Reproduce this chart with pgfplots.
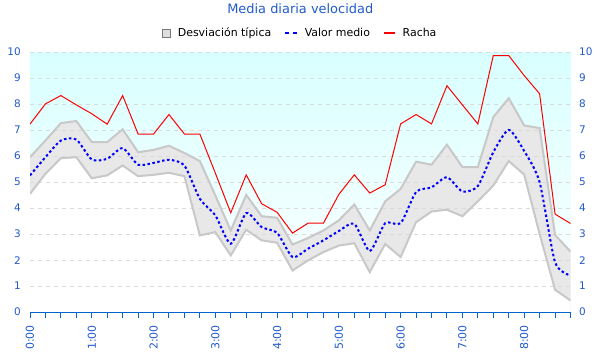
\documentclass[border=0pt]{standalone}
\usepackage{fontspec}
\setmainfont{DejaVu Sans}
\usepackage{pgfplots}
\pgfplotsset{compat=1.18}
\usepackage{pgfplotstable}
\definecolor{txtblue}{RGB}{34,90,204}
\definecolor{axblue}{RGB}{0,102,204}
\definecolor{cyantop}{RGB}{216,255,255}
\definecolor{bandfill}{RGB}{232,232,232}
\definecolor{bandedge}{RGB}{200,200,200}
\definecolor{gridgrey}{RGB}{218,218,218}
\definecolor{legfill}{RGB}{222,222,222}
\definecolor{legdraw}{RGB}{120,120,120}
\newcommand\tickfont{\fontsize{10.5}{12}\selectfont}
\newcommand\xtickfont{\fontsize{11}{13}\selectfont}

\pgfplotstableread{
i up lo mean racha
0 5.96 4.55 5.26 7.23
1 6.60 5.32 5.96 8.01
2 7.27 5.92 6.60 8.33
3 7.35 5.96 6.64 7.97
4 6.54 5.15 5.87 7.63
5 6.54 5.26 5.90 7.23
6 7.03 5.64 6.31 8.33
7 6.15 5.23 5.67 6.85
8 6.24 5.28 5.74 6.85
9 6.40 5.36 5.86 7.60
10 6.12 5.23 5.64 6.85
11 5.81 2.95 4.36 6.85
12 4.49 3.08 3.72 5.35
13 3.14 2.18 2.63 3.82
14 4.51 3.17 3.81 5.28
15 3.69 2.76 3.27 4.17
16 3.63 2.67 3.05 3.84
17 2.60 1.60 2.12 3.04
18 2.85 1.99 2.44 3.42
19 3.14 2.31 2.76 3.42
20 3.53 2.56 3.12 4.53
21 4.14 2.65 3.40 5.28
22 3.14 1.54 2.35 4.58
23 4.26 2.62 3.42 4.90
24 4.74 2.12 3.42 7.24
25 5.79 3.46 4.62 7.60
26 5.67 3.87 4.80 7.24
27 6.44 3.94 5.19 8.71
28 5.58 3.69 4.64 7.97
29 5.58 4.26 4.85 7.24
30 7.50 4.87 6.15 9.87
31 8.23 5.81 7.01 9.87
32 7.18 5.29 6.20 9.10
33 7.08 3.01 5.00 8.40
34 2.97 0.86 1.92 3.77
35 2.33 0.45 1.41 3.41
}\data

\begin{document}
\begin{tikzpicture}
\path (-30bp,-50bp) rectangle (570bp,310bp);
\begin{axis}[
  set layers,
  at={(0,0)}, anchor=south west,
  scale only axis, width=540.5bp, height=260bp,
  xmin=0, xmax=35, ymin=0, ymax=10,
  axis background/.style={top color=cyantop, bottom color=white},
  axis x line*=bottom, axis y line*=left,
  y axis line style={draw=none},
  x axis line style={draw=axblue, line width=1.2bp, -},
  xtick={0,4,...,32},
  xticklabels={0:00,1:00,2:00,3:00,4:00,5:00,6:00,7:00,8:00},
  minor xtick={0,...,35},
  xtick align=outside,
  major tick length=6bp, minor tick length=6bp,
  xtick style={draw=axblue, line width=1bp},
  xticklabel style={font=\xtickfont, text=txtblue, rotate=90, anchor=east, inner sep=0pt, xshift=-7bp},
  ytick={0,...,10},
  ytick style={draw=none},
  yticklabel style={font=\tickfont, text=txtblue, inner sep=0pt, xshift=-9bp},
  /pgf/number format/assume math mode=true,
  ymajorgrids,
  grid style={draw=gridgrey, dash pattern=on 4bp off 4bp, line width=0.8bp},
  title={Media diaria velocidad},
  title style={at={(0.5,1)}, anchor=base, yshift=33bp, font=\fontsize{13}{15}\selectfont, text=txtblue},
  legend columns=3,
  legend cell align=left,
  legend style={at={(0.5,1)}, anchor=center, yshift=19bp, draw=none, fill=none,
    font=\fontsize{11}{13}\selectfont,
    /tikz/every odd column/.append style={column sep=5bp},
    /tikz/every even column/.append style={column sep=11bp}},
  mark=none,
]
\addplot[draw=none, fill=bandfill, on layer=axis background, forget plot] table[x=i,y=up]{\data} \closedcycle;
\addplot[draw=none, fill=white, on layer=axis background, forget plot] table[x=i,y=lo]{\data} \closedcycle;
\addplot[draw=bandedge, line width=2bp, forget plot] table[x=i,y=up]{\data};
\addplot[draw=bandedge, line width=2bp, forget plot] table[x=i,y=lo]{\data};
\addplot[draw=blue, line width=2bp, dash pattern=on 2.5bp off 2.5bp, smooth, tension=0.4, forget plot] table[x=i,y=mean]{\data};
\addplot[draw=red, line width=1bp, forget plot] table[x=i,y=racha]{\data};

\addlegendimage{legend image code/.code={\draw[fill=legfill, draw=legdraw, line width=0.8bp] (0bp,-4bp) rectangle (8bp,4bp);}}
\addlegendentry{Desviación típica}
\addlegendimage{legend image code/.code={\draw[blue, line width=2bp, dash pattern=on 4bp off 3.5bp] (0bp,0bp) -- (11.5bp,0bp);}}
\addlegendentry{Valor medio}
\addlegendimage{legend image code/.code={\draw[red, line width=2bp] (0bp,0bp) -- (10.7bp,0bp);}}
\addlegendentry{Racha}
\end{axis}

\begin{axis}[
  at={(0,0)}, anchor=south west,
  scale only axis, width=540.5bp, height=260bp,
  xmin=0, xmax=35, ymin=0, ymax=10,
  hide x axis,
  axis y line*=right,
  y axis line style={draw=none},
  ytick={0,...,10},
  ytick style={draw=none},
  yticklabel style={font=\tickfont, text=txtblue, inner sep=0pt, xshift=8.5bp},
  /pgf/number format/assume math mode=true,
]
\addplot[draw=none, forget plot] coordinates {(0,0)};
\end{axis}
\end{tikzpicture}
\end{document}
